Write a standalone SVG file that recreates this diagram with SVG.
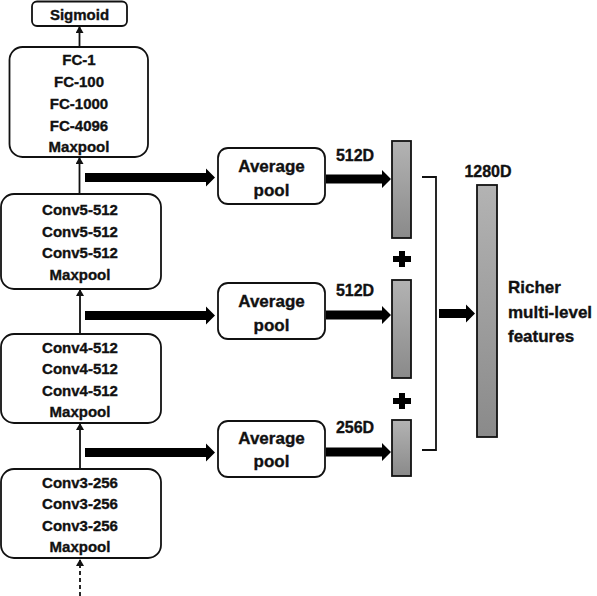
<svg xmlns="http://www.w3.org/2000/svg" width="597" height="596" viewBox="0 0 597 596">
<defs>
<style>
.box{fill:#fff;stroke:#111;stroke-width:1.8}
.t{font-family:"Liberation Sans",Arial,sans-serif;font-weight:bold;font-size:15px;fill:#111;stroke:#111;stroke-width:0.35;text-anchor:middle}
.t17{font-size:17px}
.t16{font-size:16px}
.st{text-anchor:start}
.ln{stroke:#111;stroke-width:1.8;fill:none}
.bar{fill:url(#g);stroke:#111;stroke-width:1.8}
.big{fill:#000}
</style>
<linearGradient id="g" x1="0" y1="0" x2="0" y2="1">
<stop offset="0" stop-color="#b3b3b3"/>
<stop offset="1" stop-color="#8a8a8a"/>
</linearGradient>
<marker id="ah" markerWidth="8" markerHeight="8" refX="6" refY="4" orient="auto" markerUnits="userSpaceOnUse">
<path d="M0,0 L7,4 L0,8 Z" fill="#111"/>
</marker>
</defs>

<g id="sigmoid"><rect class="box" x="32" y="1.5" width="95" height="24.5" rx="5"/><text class="t" x="79.5" y="19.5">Sigmoid</text></g>
<g id="fc"><rect class="box" x="9.5" y="47" width="138.5" height="110" rx="13"/>
<text class="t" x="79" y="65">FC-1</text><text class="t" x="79" y="87">FC-100</text><text class="t" x="79" y="109">FC-1000</text><text class="t" x="79" y="130.5">FC-4096</text><text class="t" x="79" y="152">Maxpool</text></g>
<g id="conv5"><rect class="box" x="1" y="194" width="160" height="95" rx="13"/>
<text class="t" x="80" y="215">Conv5-512</text><text class="t" x="80" y="236.5">Conv5-512</text><text class="t" x="80" y="258">Conv5-512</text><text class="t" x="80" y="279.5">Maxpool</text></g>
<g id="conv4"><rect class="box" x="1" y="334" width="160" height="89" rx="13"/>
<text class="t" x="80" y="352.5">Conv4-512</text><text class="t" x="80" y="374">Conv4-512</text><text class="t" x="80" y="395.5">Conv4-512</text><text class="t" x="80" y="417">Maxpool</text></g>
<g id="conv3"><rect class="box" x="1" y="469" width="160" height="89" rx="13"/>
<text class="t" x="80" y="487.5">Conv3-256</text><text class="t" x="80" y="509">Conv3-256</text><text class="t" x="80" y="530.5">Conv3-256</text><text class="t" x="80" y="552">Maxpool</text></g>

<g id="avg1"><rect class="box" x="218" y="148" width="107" height="56" rx="10"/><text class="t t17" x="271.5" y="172">Average</text><text class="t t17" x="271.5" y="196">pool</text></g>
<g id="avg2"><rect class="box" x="218" y="283" width="107" height="56" rx="10"/><text class="t t17" x="271.5" y="307">Average</text><text class="t t17" x="271.5" y="330.5">pool</text></g>
<g id="avg3"><rect class="box" x="218" y="421" width="107" height="56" rx="10"/><text class="t t17" x="271.5" y="443.5">Average</text><text class="t t17" x="271.5" y="467">pool</text></g>

<g id="bar1"><rect class="bar" x="392" y="141" width="19" height="97"/><text class="t t16" x="355" y="161">512D</text></g>
<g id="bar2"><rect class="bar" x="392" y="280" width="19" height="98"/><text class="t t16" x="355" y="296">512D</text></g>
<g id="bar3"><rect class="bar" x="392" y="420" width="19" height="56"/><text class="t t16" x="355" y="433">256D</text></g>
<g id="plus1"><path class="big" d="M399,251 h6 v5 h6 v6 h-6 v5 h-6 v-5 h-6 v-6 h6 z"/></g>
<g id="plus2"><path class="big" d="M399,393 h6 v5 h6 v6 h-6 v5 h-6 v-5 h-6 v-6 h6 z"/></g>
<g id="bigbar"><rect class="bar" x="477" y="185" width="20" height="252"/><text class="t t16" x="488" y="177">1280D</text></g>
<g id="label"><text class="t t17 st" x="508" y="293">Richer</text><text class="t t17 st" x="508" y="318">multi-level</text><text class="t t17 st" x="508" y="342">features</text></g>

<g id="connectors">
<line class="ln" x1="79.5" y1="47" x2="79.5" y2="27" marker-end="url(#ah)"/>
<line class="ln" x1="79.5" y1="194" x2="79.5" y2="158" marker-end="url(#ah)"/>
<line class="ln" x1="80" y1="334" x2="80" y2="290" marker-end="url(#ah)"/>
<line class="ln" x1="80" y1="469" x2="80" y2="424" marker-end="url(#ah)"/>
<line class="ln" x1="80" y1="596" x2="80" y2="560" stroke-dasharray="4,3" marker-end="url(#ah)"/>
<path class="big" d="M85,173 H206 V168.5 L215,177.5 L206,186.5 V182 H85 Z"/>
<path class="big" d="M85,311 H206 V306.5 L215,315.5 L206,324.5 V320 H85 Z"/>
<path class="big" d="M85,448 H206 V443.5 L215,452.5 L206,461.5 V457 H85 Z"/>
<path class="big" d="M326,174.5 H382 V170 L391,179 L382,188 V183.5 H326 Z"/>
<path class="big" d="M326,310.5 H382 V306 L391,315 L382,324 V319.5 H326 Z"/>
<path class="big" d="M326,447.5 H382 V443 L391,452 L382,461 V456.5 H326 Z"/>
<path class="ln" d="M422,177 H436 V450 H422" stroke-width="2"/>
<path class="big" d="M439,309 H466 V304.5 L475,313.5 L466,322.5 V318 H439 Z"/>
</g>
</svg>
